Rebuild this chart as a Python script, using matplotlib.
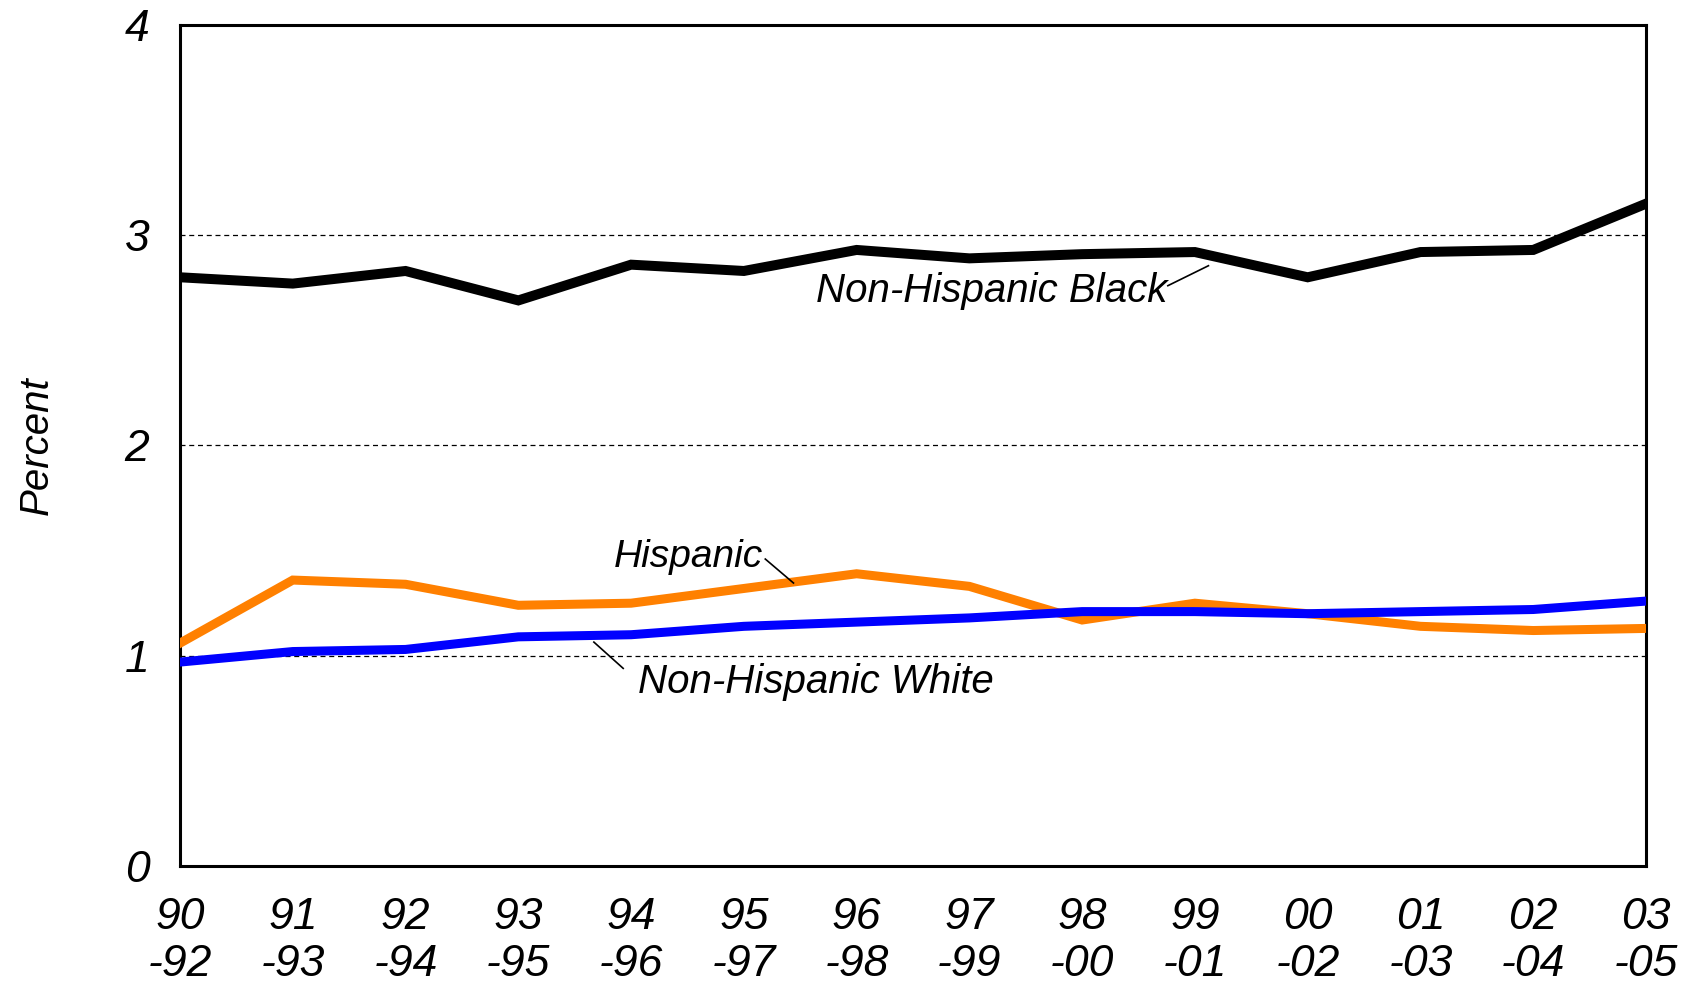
import matplotlib
matplotlib.use("Agg")
import matplotlib.pyplot as plt

plt.rcParams['font.family'] = ['Liberation Sans', 'DejaVu Sans']

# periodos (tres años) y porcentajes
periods = ["90\n-92", "91\n-93", "92\n-94", "93\n-95", "94\n-96", "95\n-97", "96\n-98",
           "97\n-99", "98\n-00", "99\n-01", "00\n-02", "01\n-03", "02\n-04", "03\n-05"]
nh_black = [2.80, 2.77, 2.83, 2.69, 2.86, 2.83, 2.93, 2.89, 2.91, 2.92, 2.80, 2.92, 2.93, 3.15]
hispanic = [1.06, 1.36, 1.34, 1.24, 1.25, 1.32, 1.39, 1.33, 1.17, 1.25, 1.20, 1.14, 1.12, 1.13]
nh_white = [0.97, 1.02, 1.03, 1.09, 1.10, 1.14, 1.16, 1.18, 1.21, 1.21, 1.20, 1.21, 1.22, 1.26]
y_ticks = [0, 1, 2, 3, 4]

FS = 29      # etiquetas de series
FS_TICK = 32

fig = plt.figure(figsize=(16.92, 9.83), dpi=100)
ax = fig.add_axes([0.1064, 0.119, 0.8664, 0.8556])

x = list(range(len(periods)))

# rejilla discontinua
for g in [1, 2, 3]:
    ax.axhline(g, color='black', linestyle=(0, (4, 3)), linewidth=0.9, zorder=1)

ax.plot(x, nh_black, color='black', linewidth=7.2, solid_joinstyle='miter', zorder=3)
ax.plot(x, hispanic, color='#FF8000', linewidth=6.5, solid_joinstyle='miter', zorder=3)
ax.plot(x, nh_white, color='#0000FF', linewidth=6.5, solid_joinstyle='miter', zorder=4)

ax.set_xlim(0, len(periods) - 1)
ax.set_ylim(0, 4)
ax.set_xticks(x)
ax.set_xticklabels(periods, fontsize=FS_TICK, style='italic', linespacing=1.2)
ax.set_yticks(y_ticks)
ax.set_yticklabels([str(v) for v in y_ticks], fontsize=FS_TICK, style='italic')
ax.tick_params(axis='both', length=0)
ax.tick_params(axis='x', pad=22)
ax.tick_params(axis='y', pad=22)
ax.set_ylabel("Percent", fontsize=FS, style='italic', labelpad=50)

for sp in ax.spines.values():
    sp.set_linewidth(2.2)

# etiquetas con líneas guía
ax.text(8.76, 2.735, "Non-Hispanic Black", fontsize=FS, style='italic', ha='right', va='center')
ax.plot([8.76, 9.12], [2.76, 2.855], color='black', linewidth=1.2, zorder=5)

ax.text(5.17, 1.47, "Hispanic", fontsize=FS - 1, style='italic', ha='right', va='center')
ax.plot([5.19, 5.44], [1.46, 1.346], color='black', linewidth=1.2, zorder=5)

ax.text(4.06, 0.875, "Non-Hispanic White", fontsize=FS, style='italic', ha='left', va='center')
ax.plot([3.67, 3.93], [1.065, 0.94], color='black', linewidth=1.2, zorder=5)

fig.savefig("out.png", dpi=100)
